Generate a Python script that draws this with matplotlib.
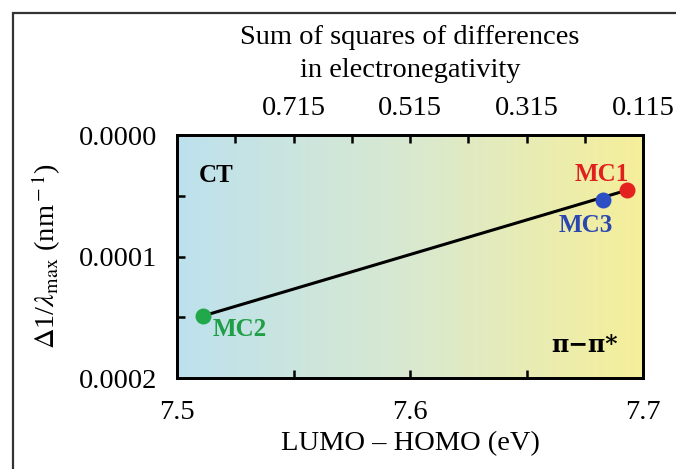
import numpy as np
import matplotlib.pyplot as plt
from matplotlib.colors import LinearSegmentedColormap
from matplotlib.patches import Rectangle
from matplotlib.ticker import FixedLocator, FormatStrFormatter

# data
names = ['MC1', 'MC3', 'MC2']
gap = [7.693, 7.683, 7.511]          # LUMO - HOMO (eV)
dlam = [0.0000455, 0.0000535, 0.000149]  # delta 1/lambda_max
colors = ['#e5231e', '#2d4fc4', '#20a84a']
txt_colors = ['#e0201c', '#2a48b0', '#1f9e46']

top_ticks = [0.715, 0.515, 0.315, 0.115]
top_minor = [0.815, 0.615, 0.415, 0.215]

plt.rcParams['font.family'] = ['Liberation Serif', 'DejaVu Serif']
plt.rcParams['mathtext.fontset'] = 'stix'
fs = 20.5

fig = plt.figure(figsize=(6.76, 4.69), dpi=100)
ax = fig.add_axes([177/676, 1 - 378/469, 466/676, 243/469])

# background gradient blue -> yellow
cmap = LinearSegmentedColormap.from_list('bg', ['#bde1ed', '#d9e9d0', '#f6ef9a'])
grad = np.linspace(0, 1, 256).reshape(1, -1)
ax.imshow(grad, cmap=cmap, aspect='auto', extent=(7.5, 7.7, 0.0002, 0.0), zorder=0)

# fit line from MC2 to MC1
ax.plot([gap[2], gap[0]], [dlam[2], dlam[0]], color='black', lw=2.2, zorder=2)
for g, d, c in zip(gap, dlam, colors):
    ax.plot(g, d, 'o', color=c, ms=11.5, mec='none', zorder=3)

ax.text(7.6825, 0.0000325, 'MC1', color=txt_colors[0], fontsize=18, fontweight='bold', ha='center', va='center')
ax.text(7.6755, 0.0000745, 'MC3', color=txt_colors[1], fontsize=18, fontweight='bold', ha='center', va='center')
ax.text(7.527, 0.000160, 'MC2', color=txt_colors[2], fontsize=18, fontweight='bold', ha='center', va='center')
ax.text(7.517, 0.000033, 'CT', color='black', fontsize=18, fontweight='bold', ha='center', va='center')
ax.text(7.675, 0.000173, 'π−π*', color='black', fontsize=17, fontweight='bold', ha='center', va='center',
        family=['DejaVu Serif'])

ax.set_xlim(7.5, 7.7)
ax.set_ylim(0.0002, 0.0)
ax.xaxis.set_major_locator(FixedLocator([7.5, 7.6, 7.7]))
ax.xaxis.set_minor_locator(FixedLocator([7.55, 7.65]))
ax.yaxis.set_major_locator(FixedLocator([0.0, 0.0001, 0.0002]))
ax.yaxis.set_minor_locator(FixedLocator([0.00005, 0.00015]))
ax.xaxis.set_major_formatter(FormatStrFormatter('%.1f'))
ax.yaxis.set_major_formatter(FormatStrFormatter('%.4f'))
ax.tick_params(which='both', direction='in', length=6, width=1.8, labelsize=fs, pad=16)
ax.tick_params(axis='y', which='both', pad=14)
ax.set_xlabel('LUMO – HOMO (eV)', fontsize=fs, labelpad=4)
ax.set_ylabel(r'$\Delta$1/$\lambda_{\rm max}$ (nm$^{\rm -1}$)', fontsize=fs)
ax.yaxis.set_label_coords(-0.245, 0.5)
for s in ax.spines.values():
    s.set_linewidth(2)

# top axis
ax2 = ax.twiny()
ax2.set_xlim(0.915, 0.115)
ax2.xaxis.set_major_locator(FixedLocator(top_ticks))
ax2.xaxis.set_minor_locator(FixedLocator(top_minor))
ax2.xaxis.set_major_formatter(FormatStrFormatter('%.3f'))
ax2.tick_params(which='both', direction='in', length=6, width=1.8, labelsize=fs, pad=10)
ax2.set_xlabel('Sum of squares of differences\nin electronegativity', fontsize=fs, labelpad=14,
               linespacing=1.4)
for s in ax2.spines.values():
    s.set_linewidth(2)

# outer frame
fig.patches.append(Rectangle((13/676, -0.1), 1.2, 1 - 13/469 + 0.1, transform=fig.transFigure,
                             fill=False, edgecolor='#333333', lw=1.6))

fig.savefig('out.png', dpi=100)
